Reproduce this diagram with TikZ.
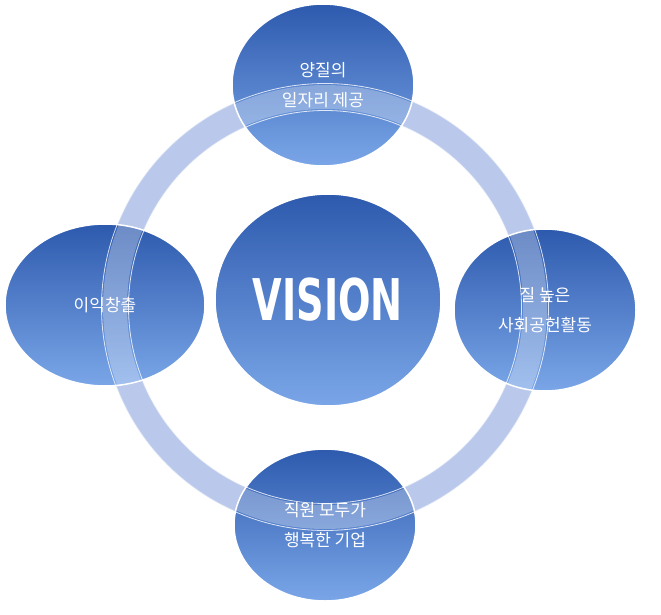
\documentclass[tikz,border=0pt]{standalone}
\usepackage{fontspec}
\usetikzlibrary{shapes.geometric}
\newfontfamily\kr{Noto Sans CJK KR}
\newfontfamily\cond{DejaVu Sans Condensed}
\definecolor{dk}{HTML}{2E5AAE}
\definecolor{lt}{HTML}{7AA6E8}
\definecolor{ringc}{HTML}{9DB3E3}
\begin{document}
\begin{tikzpicture}[x=1pt,y=-1pt,
  ball/.style={ellipse,draw=white,line width=1.5pt,top color=dk,bottom color=lt,text=white,font=\kr\fontsize{17}{30}\selectfont,align=center}]
\path[use as bounding box] (0,0) rectangle (661,615);
\fill[white] (0,0) rectangle (661,615);
\draw[ringc!60!white,line width=27pt] (325,307) circle (210);
\draw[ringc,line width=24pt] (325,307) circle (210);
\node[ball,minimum width=182pt,minimum height=162pt] (top) at (323,85) {양질의\\일자리 제공};
\node[ball,minimum width=200pt,minimum height=162pt] (left) at (105,305) {이익창출};
\node[ball,minimum width=182pt,minimum height=162pt] (right) at (545,310) {질 높은\\사회공헌활동};
\node[ball,minimum width=182pt,minimum height=152pt] (bot) at (325,525) {직원 모두가\\행복한 기업};
\draw[white,opacity=0.3,line width=24pt] (325,307) circle (210);
\draw[white,line width=0.8pt,opacity=0.8] (325,307) circle (223.5);
\draw[white,line width=0.8pt,opacity=0.8] (325,307) circle (196.5);
\node[ball,minimum width=226pt,minimum height=212pt,font=\cond\bfseries\fontsize{50}{50}\selectfont] (c) at (328,300) {\scalebox{0.85}[1.15]{VISION}};
\end{tikzpicture}
\end{document}
